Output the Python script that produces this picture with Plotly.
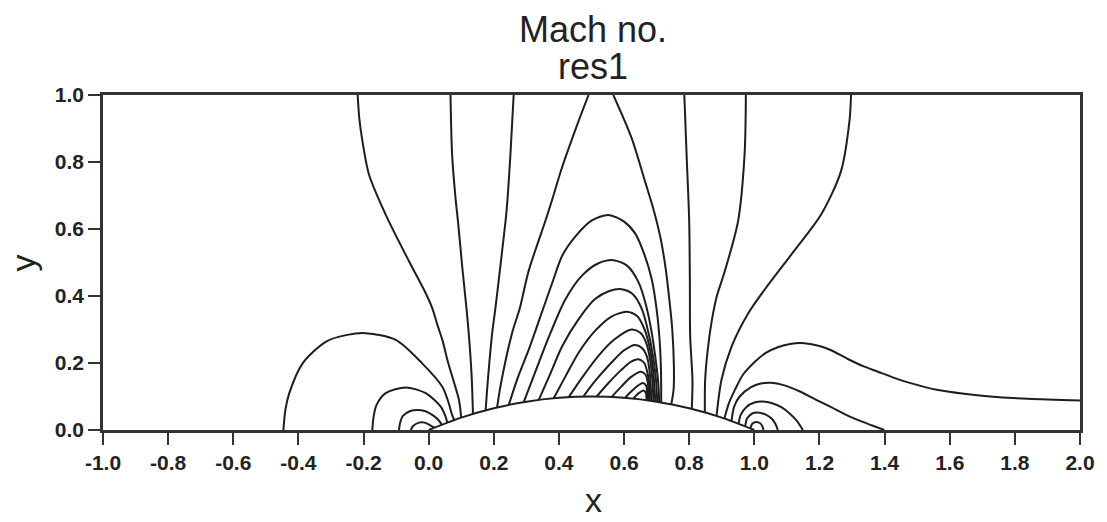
import plotly.graph_objects as go

# ---- data (x, y pairs in plot units) ----
bump = [(0.0, 0.0), (0.1, 0.0369), (0.2, 0.0649), (0.3, 0.0845), (0.4, 0.0961), (0.5, 0.1),
        (0.6, 0.0961), (0.7, 0.0845), (0.8, 0.0649), (0.9, 0.0369), (1.0, 0.0)]

# leading-edge arcs
arc_a1 = [(-0.446, 0.0), (-0.440, 0.06), (-0.428, 0.110), (-0.387, 0.199), (-0.315, 0.264),
          (-0.250, 0.284), (-0.193, 0.289), (-0.101, 0.269), (-0.020, 0.199), (0.042, 0.129),
          (0.060, 0.085), (0.072, 0.045), (0.078, 0.030)]
arc_a2 = [(-0.173, 0.0), (-0.169, 0.040), (-0.160, 0.075), (-0.132, 0.110), (-0.070, 0.127),
          (-0.009, 0.110), (0.037, 0.070), (0.052, 0.040), (0.057, 0.022)]
arc_a3 = [(-0.091, 0.0), (-0.088, 0.020), (-0.079, 0.042), (-0.058, 0.056), (-0.035, 0.060),
          (-0.010, 0.056), (0.011, 0.045), (0.030, 0.030), (0.040, 0.016)]
arc_a4 = [(-0.055, 0.0), (-0.048, 0.012), (-0.030, 0.022), (-0.012, 0.022), (0.001, 0.016),
          (0.012, 0.010), (0.018, 0.007)]

# lines reaching the upper wall
line_v1 = [(-0.218, 1.0), (-0.213, 0.93), (-0.205, 0.872), (-0.183, 0.762), (-0.132, 0.643),
           (-0.060, 0.503), (-0.015, 0.42), (0.011, 0.364), (0.028, 0.31), (0.042, 0.269),
           (0.060, 0.20), (0.077, 0.145), (0.093, 0.090), (0.100, 0.037)]
line_v2 = [(0.067, 1.0), (0.072, 0.822), (0.083, 0.687), (0.090, 0.623), (0.103, 0.488),
           (0.116, 0.364), (0.123, 0.289), (0.132, 0.160), (0.136, 0.048)]
line_v3 = [(0.261, 1.0), (0.251, 0.822), (0.242, 0.687), (0.236, 0.623), (0.220, 0.488),
           (0.205, 0.364), (0.195, 0.289), (0.181, 0.139), (0.175, 0.059)]
line_v4 = [(0.491, 1.0), (0.460, 0.921), (0.409, 0.782), (0.379, 0.687), (0.358, 0.623),
           (0.307, 0.475), (0.280, 0.364), (0.256, 0.289), (0.222, 0.139), (0.210, 0.067)]
line_v5 = [(0.567, 1.0), (0.623, 0.872), (0.665, 0.740), (0.690, 0.660), (0.712, 0.573),
           (0.728, 0.48), (0.740, 0.38), (0.748, 0.30), (0.753, 0.19), (0.752, 0.12), (0.745, 0.077)]
line_v6 = [(0.785, 1.0), (0.792, 0.822), (0.800, 0.623), (0.802, 0.45), (0.803, 0.279),
           (0.810, 0.149), (0.808, 0.063)]
line_v7 = [(0.974, 1.0), (0.970, 0.822), (0.950, 0.623), (0.909, 0.473), (0.885, 0.40),
           (0.870, 0.330), (0.857, 0.24), (0.849, 0.15), (0.848, 0.053)]
line_v8 = [(1.297, 1.0), (1.292, 0.921), (1.266, 0.772), (1.205, 0.643), (1.113, 0.523),
           (1.040, 0.43), (0.981, 0.348), (0.930, 0.249), (0.899, 0.149), (0.884, 0.042)]

# supersonic pocket arcs ending in the shock
arc_c1 = [(0.246, 0.075), (0.275, 0.16), (0.307, 0.239), (0.340, 0.33), (0.379, 0.438),
          (0.410, 0.52), (0.450, 0.577), (0.500, 0.625), (0.552, 0.642), (0.600, 0.622),
          (0.634, 0.587), (0.662, 0.525), (0.685, 0.45), (0.700, 0.36), (0.709, 0.27),
          (0.713, 0.19), (0.714, 0.13), (0.714, 0.082)]
arc_c2 = [(0.292, 0.083), (0.330, 0.18), (0.370, 0.28), (0.420, 0.39), (0.470, 0.46),
          (0.520, 0.497), (0.567, 0.507), (0.610, 0.49), (0.645, 0.44), (0.668, 0.37),
          (0.685, 0.29), (0.697, 0.21), (0.705, 0.14), (0.708, 0.083)]
arc_c3 = [(0.338, 0.090), (0.370, 0.16), (0.410, 0.25), (0.460, 0.33), (0.510, 0.39),
          (0.555, 0.415), (0.593, 0.420), (0.627, 0.405), (0.655, 0.36), (0.675, 0.29),
          (0.689, 0.22), (0.698, 0.15), (0.702, 0.084)]
arc_c4 = [(0.384, 0.095), (0.420, 0.16), (0.460, 0.23), (0.510, 0.295), (0.560, 0.338),
          (0.608, 0.353), (0.640, 0.34), (0.663, 0.30), (0.680, 0.24), (0.690, 0.17), (0.696, 0.085)]
arc_c5 = [(0.430, 0.098), (0.470, 0.155), (0.520, 0.22), (0.570, 0.27), (0.623, 0.300),
          (0.650, 0.29), (0.668, 0.26), (0.680, 0.21), (0.687, 0.15), (0.690, 0.086)]
arc_c6 = [(0.475, 0.100), (0.510, 0.145), (0.560, 0.20), (0.600, 0.238), (0.634, 0.254),
          (0.655, 0.245), (0.670, 0.22), (0.679, 0.17), (0.684, 0.087)]
arc_c7 = [(0.516, 0.100), (0.550, 0.138), (0.590, 0.178), (0.620, 0.203), (0.644, 0.211),
          (0.662, 0.20), (0.672, 0.17), (0.678, 0.13), (0.679, 0.088)]
arc_c8 = [(0.562, 0.099), (0.590, 0.128), (0.620, 0.157), (0.652, 0.174), (0.666, 0.165),
          (0.673, 0.14), (0.675, 0.088)]
arc_c9 = [(0.603, 0.096), (0.625, 0.118), (0.657, 0.140), (0.668, 0.132), (0.671, 0.11),
          (0.672, 0.089)]
arc_c10 = [(0.629, 0.094), (0.645, 0.110), (0.660, 0.118), (0.667, 0.11), (0.669, 0.089)]

# trailing-edge arcs
arc_r1 = [(0.908, 0.034), (0.922, 0.08), (0.940, 0.119), (0.965, 0.165), (1.001, 0.203),
          (1.035, 0.230), (1.072, 0.247), (1.110, 0.257), (1.154, 0.259), (1.200, 0.251),
          (1.236, 0.238), (1.287, 0.212), (1.338, 0.189), (1.380, 0.174), (1.440, 0.152),
          (1.480, 0.140), (1.560, 0.120), (1.644, 0.108), (1.715, 0.101), (1.840, 0.093), (2.0, 0.088)]
arc_r2 = [(0.930, 0.027), (0.938, 0.07), (0.955, 0.100), (0.990, 0.128), (1.020, 0.139),
          (1.052, 0.141), (1.090, 0.134), (1.140, 0.115), (1.190, 0.090), (1.236, 0.068),
          (1.280, 0.046), (1.317, 0.030), (1.360, 0.014), (1.399, 0.0)]
arc_r3 = [(0.952, 0.019), (0.958, 0.045), (0.975, 0.068), (1.000, 0.082), (1.026, 0.085),
          (1.055, 0.080), (1.083, 0.068), (1.110, 0.048), (1.130, 0.028), (1.149, 0.0)]
arc_r4 = [(0.972, 0.011), (0.978, 0.035), (0.995, 0.050), (1.010, 0.052), (1.035, 0.046),
          (1.052, 0.035), (1.065, 0.018), (1.072, 0.0)]
arc_r5 = [(0.988, 0.005), (0.993, 0.018), (1.005, 0.024), (1.018, 0.020), (1.025, 0.010),
          (1.028, 0.0)]

contours = [arc_a1, arc_a2, arc_a3, arc_a4,
            line_v1, line_v2, line_v3, line_v4, line_v5, line_v6, line_v7, line_v8,
            arc_c1, arc_c2, arc_c3, arc_c4, arc_c5, arc_c6, arc_c7, arc_c8, arc_c9, arc_c10,
            arc_r1, arc_r2, arc_r3, arc_r4, arc_r5, bump]

x_ticks = [-1.0, -0.8, -0.6, -0.4, -0.2, 0.0, 0.2, 0.4, 0.6, 0.8, 1.0, 1.2, 1.4, 1.6, 1.8, 2.0]
y_ticks = [0.0, 0.2, 0.4, 0.6, 0.8, 1.0]
x_tick_text = ["%.1f" % v for v in x_ticks]
y_tick_text = ["%.1f" % v for v in y_ticks]

title_lines = ["Mach no.", "res1"]
x_title = "x"
y_title = "y"

# ---- figure ----
FONT = "Liberation Sans, Arial, sans-serif"
LINE_COLOR = "#1e1e1e"
AXIS_COLOR = "#333333"

fig = go.Figure()
for c in contours:
    fig.add_trace(go.Scatter(
        x=[p[0] for p in c], y=[p[1] for p in c], mode="lines",
        line=dict(color=LINE_COLOR, width=2.0, shape="spline", smoothing=0.8),
        hoverinfo="skip", showlegend=False))

axis_common = dict(showgrid=False, zeroline=False, showline=True, mirror=True,
                   linecolor=AXIS_COLOR, linewidth=2.5, ticks="outside", ticklen=12,
                   tickwidth=2, tickcolor=AXIS_COLOR,
                   tickfont=dict(family=FONT, size=21, color="#222", weight="bold"))

fig.update_layout(
    width=1107, height=522,
    margin=dict(l=103, r=24, t=95, b=92),
    paper_bgcolor="white", plot_bgcolor="white",
    xaxis=dict(range=[-1, 2], tickvals=x_ticks, ticktext=x_tick_text, **axis_common),
    yaxis=dict(range=[0, 1], tickvals=y_ticks, ticktext=y_tick_text, **axis_common),
    annotations=[
        dict(text=title_lines[0], xref="paper", yref="paper", x=0.502, y=1.1955,
             xanchor="center", yanchor="middle", showarrow=False,
             font=dict(family=FONT, size=36, color="#222")),
        dict(text=title_lines[1], xref="paper", yref="paper", x=0.502, y=1.085,
             xanchor="center", yanchor="middle", showarrow=False,
             font=dict(family=FONT, size=36, color="#222")),
        dict(text=x_title, xref="paper", yref="paper", x=0.502, y=-0.208,
             xanchor="center", yanchor="middle", showarrow=False,
             font=dict(family=FONT, size=34, color="#222")),
        dict(text=y_title, xref="paper", yref="paper", x=-0.082, y=0.50,
             xanchor="center", yanchor="middle", showarrow=False, textangle=-90,
             font=dict(family=FONT, size=34, color="#222")),
    ],
)

fig.write_html("out.html")
